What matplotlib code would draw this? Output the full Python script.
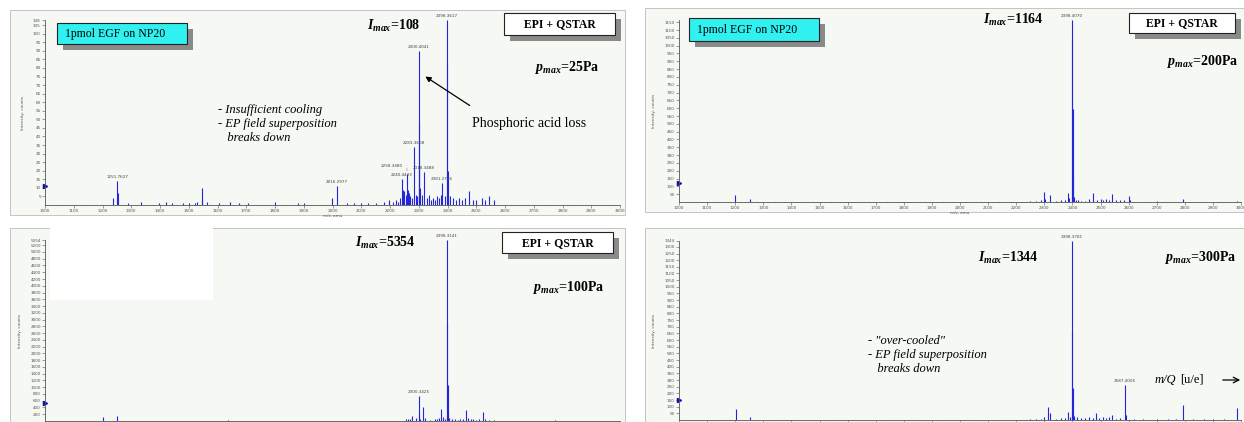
import matplotlib
matplotlib.use('Agg')
import matplotlib.pyplot as plt
from matplotlib.patches import Rectangle

plt.rcParams['mathtext.fontset'] = 'custom'
plt.rcParams['mathtext.it'] = 'Liberation Serif:italic:bold'
plt.rcParams['mathtext.rm'] = 'Liberation Serif:bold'
plt.rcParams['mathtext.bf'] = 'Liberation Serif:bold'

# ---- data (m/z, intensity) ----
x_ticks = list(range(1000, 3001, 100))

# p_max = 25 Pa
tl_mz = [1235, 1251.76, 1252.8, 1290, 1335, 1395, 1420, 1440, 1480, 1500,
         1520, 1530, 1545.5, 1546.5, 1565, 1605, 1645, 1675, 1705, 1800,
         1880, 1900, 1999, 2016.30, 2050, 2075, 2100, 2125, 2150, 2180,
         2195, 2210, 2220, 2228, 2235, 2240.44, 2245, 2250, 2254, 2258.35,
         2262, 2266, 2270, 2276, 2283.36, 2290, 2295, 2300.40, 2301.40, 2302.40,
         2306, 2310, 2318.35, 2328, 2335, 2342, 2350, 2356, 2362, 2370,
         2376, 2381.27, 2390, 2398.36, 2399.36, 2400.36, 2401.36, 2410, 2418, 2430,
         2440, 2450, 2462, 2475, 2490, 2500, 2520, 2530, 2545, 2560]
tl_int = [4, 14, 7, 1, 2, 1, 2, 1, 1, 1,
          1, 2, 10, 3, 2, 1, 2, 1, 1, 2,
          1, 1, 4, 11, 1, 1, 1, 1, 1, 2,
          3, 2, 3, 2, 4, 15, 9, 8, 6, 18,
          9, 7, 5, 4, 34, 6, 5, 90, 48, 22,
          10, 6, 19, 4, 6, 3, 4, 3, 5, 4,
          6, 13, 5, 108, 82, 20, 6, 5, 4, 3,
          4, 3, 4, 8, 3, 3, 4, 3, 5, 3]
tl_labels = [(1251.76, 14, '1251.7627'), (2016.30, 11, '2016.2977'),
             (2240.44, 15, '2240.4433'), (2283.36, 34, '2283.3608'),
             (2300.40, 90, '2300.4041'), (2318.35, 19, '2318.3488'),
             (2381.27, 13, '2381.2736'), (2398.36, 108, '2398.3617')]
tl_yticks = list(range(5, 106, 5)) + [108]

# p_max = 200 Pa
tr_mz = [1200, 1252, 2250, 2270, 2290, 2300.4, 2302, 2322, 2340, 2360,
         2375, 2383, 2387, 2398.41, 2399.41, 2400.41, 2401.41, 2406, 2412, 2420,
         2432, 2445, 2460, 2475, 2488, 2500, 2510, 2520, 2530, 2541,
         2555, 2570, 2585, 2601, 2606, 2700, 2794, 2986]
tr_int = [45, 20, 5, 8, 15, 65, 20, 45, 8, 10,
          12, 55, 25, 1164, 1027, 594, 175, 30, 15, 10,
          8, 8, 20, 60, 12, 20, 15, 20, 12, 50,
          10, 10, 12, 40, 15, 5, 20, 8]
tr_labels = [(2398.41, 1164, '2398.4070')]
tr_yticks = list(range(50, 1151, 50))

# p_max = 100 Pa
bl_mz = [1200, 1251, 1637, 2255, 2262, 2270, 2278, 2290, 2300.34, 2301.34,
         2306, 2314, 2322, 2340, 2355, 2362, 2370, 2377, 2383, 2390,
         2398.31, 2399.31, 2400.31, 2401.31, 2406, 2415, 2425, 2435, 2445, 2455,
         2464, 2470, 2480, 2490, 2500, 2510, 2522, 2530, 2545, 2560,
         2774]
bl_int = [120, 150, 15, 50, 60, 45, 150, 80, 730, 200,
          60, 415, 80, 40, 60, 50, 90, 365, 120, 60,
          5354, 2900, 1065, 300, 100, 70, 60, 40, 70, 50,
          315, 90, 70, 50, 40, 70, 265, 50, 40, 30,
          20]
bl_labels = [(2300.34, 730, '2300.3425'), (2398.31, 5354, '2398.3141')]
bl_yticks = list(range(200, 5201, 200)) + [5354]

# p_max = 300 Pa
br_mz = [1203, 1252, 2250, 2270, 2290, 2300.4, 2313, 2322, 2340, 2360,
         2372, 2383, 2390, 2398.38, 2399.38, 2400.38, 2401.38, 2406, 2415, 2430,
         2445, 2460, 2475, 2484, 2495, 2510, 2520, 2530, 2541, 2555,
         2570, 2587.40, 2592, 2620, 2650, 2700, 2740, 2770, 2794, 2830,
         2870, 2900, 2940, 2986]
br_int = [85, 25, 5, 8, 10, 20, 95, 50, 10, 12,
          15, 62, 20, 1344, 663, 238, 60, 30, 20, 15,
          12, 20, 15, 50, 15, 20, 12, 20, 38, 10,
          12, 263, 40, 8, 6, 8, 6, 6, 113, 6,
          6, 5, 6, 92]
br_labels = [(2398.38, 1344, '2398.3781'), (2587.40, 263, '2587.4005')]
br_yticks = list(range(50, 1301, 50)) + [1344]

# ---- layout in pixels ----
W, H = 1244, 422
fig = plt.figure(figsize=(W / 100, H / 100), dpi=100)
fig.patch.set_facecolor('white')

def px_axes(left, top, right, bottom, z):
    return fig.add_axes([left / W, 1 - bottom / H, (right - left) / W, (bottom - top) / H], zorder=z)

bg = px_axes(0, 0, W, H, 0)
bg.set_xlim(0, W)
bg.set_ylim(H, 0)
bg.axis('off')
panel_color = '#f5f8f3'
for (x0, y0, x1, y1) in [(10, 10, 625, 215), (645, 8, 1244, 212),
                         (10, 228, 625, 422), (645, 228, 1244, 422)]:
    bg.add_patch(Rectangle((x0, y0), x1 - x0, y1 - y0, fc=panel_color, ec='#c4c4c4', lw=0.7))

blue = '#2424d8'

def spectrum(ax, mz, inten, ymax, yticks, labels, marker_y, show_xlabels=True):
    ax.set_facecolor('none')
    ax.vlines(mz, 0, inten, color=blue, lw=0.8)
    ax.set_xlim(1000, 3000)
    ax.set_ylim(0, ymax)
    ax.set_xticks(x_ticks)
    ax.set_xticks(range(1000, 3001, 20), minor=True)
    ax.set_yticks(yticks)
    for s in ['top', 'right']:
        ax.spines[s].set_visible(False)
    for s in ['left', 'bottom']:
        ax.spines[s].set_color('#555555')
        ax.spines[s].set_linewidth(0.6)
    ax.tick_params(axis='both', which='major', length=2, width=0.4, pad=1,
                   labelsize=3, labelcolor='#555555', color='#555555')
    ax.tick_params(axis='x', which='minor', length=1, width=0.3, color='#777777')
    ax.set_ylabel('Intensity, counts', fontsize=3, color='#555555', labelpad=6)
    if show_xlabels:
        ax.set_xlabel('m/z, amu', fontsize=3, color='#555555', labelpad=0.5)
    else:
        # the lower spectra are cropped right at their x axis
        ax.tick_params(axis='x', labelbottom=False)
    for (x, y, t) in labels:
        ax.annotate(t, (x, y), xytext=(0, 1.5), textcoords='offset points',
                    ha='center', va='bottom', fontsize=3, color='#444444')
    ax.plot([1000], [marker_y], marker='>', ms=3, color='#1010b0', clip_on=False)

ax_tl = px_axes(45, 20, 620, 205, 2)
spectrum(ax_tl, tl_mz, tl_int, 108, tl_yticks, tl_labels, 11)
ax_tl.annotate('2258.3480', (2258.35, 18), xytext=(-3, 4.5), textcoords='offset points',
               ha='right', va='bottom', fontsize=3, color='#444444',
               arrowprops=dict(arrowstyle='-', color='#666666', lw=0.3,
                               connectionstyle='angle,angleA=0,angleB=90'))

ax_tr = px_axes(679, 20, 1241, 202, 2)
spectrum(ax_tr, tr_mz, tr_int, 1164, tr_yticks, tr_labels, 120)

ax_bl = px_axes(45, 240, 620, 421, 2)
spectrum(ax_bl, bl_mz, bl_int, 5354, bl_yticks, bl_labels, 530, False)

ax_br = px_axes(679, 241, 1241, 420, 2)
spectrum(ax_br, br_mz, br_int, 1344, br_yticks, br_labels, 150, False)

# ---- overlay: boxes and annotations ----
ov = px_axes(0, 0, W, H, 5)
ov.set_xlim(0, W)
ov.set_ylim(H, 0)
ov.axis('off')
serif = 'Liberation Serif'

def shadow_box(x0, y0, x1, y1, fc, text, bold, centered):
    ov.add_patch(Rectangle((x0 + 6, y0 + 6), x1 - x0, y1 - y0, fc='#8a8a8a', ec='none'))
    ov.add_patch(Rectangle((x0, y0), x1 - x0, y1 - y0, fc=fc, ec='#222222', lw=0.8))
    tx = (x0 + x1) / 2 if centered else x0 + 8
    ov.text(tx, (y0 + y1) / 2 + 0.5, text, ha='center' if centered else 'left', va='center',
            family=serif, fontsize=8.5, fontweight='bold' if bold else 'normal')

shadow_box(57, 23, 187, 44, '#30f0f0', '1pmol EGF on NP20', False, False)
shadow_box(689, 18, 819, 41, '#30f0f0', '1pmol EGF on NP20', False, False)
shadow_box(504, 13, 615, 35, 'white', 'EPI + QSTAR', True, True)
shadow_box(1129, 13, 1235, 33, 'white', 'EPI + QSTAR', True, True)
shadow_box(502, 232, 613, 253, 'white', 'EPI + QSTAR', True, True)

# white patch in lower-left panel
ov.add_patch(Rectangle((50, 226), 163, 74, fc='white', ec='none'))

big = dict(family=serif, fontsize=10, fontweight='bold', va='center', ha='left')
ov.text(367, 26, r'$I_{max}$=108', **big)
ov.text(535, 67, r'$p_{max}$=25Pa', **big)
ov.text(983, 20, r'$I_{max}$=1164', **big)
ov.text(1167, 62, r'$p_{max}$=200Pa', **big)
ov.text(355, 243, r'$I_{max}$=5354', **big)
ov.text(533, 287, r'$p_{max}$=100Pa', **big)
ov.text(978, 258, r'$I_{max}$=1344', **big)
ov.text(1165, 258, r'$p_{max}$=300Pa', **big)

ov.text(472, 123, 'Phosphoric acid loss', family=serif, fontsize=10, va='center', ha='left')
ov.annotate('', xy=(423, 75), xytext=(472, 107),
            arrowprops=dict(arrowstyle='-|>', color='black', lw=0.9, mutation_scale=8))

ov.text(218, 104, '- Insufficient cooling\n- EP field superposition\n   breaks down',
        family=serif, fontsize=9, style='italic', va='top', ha='left', linespacing=1.2)
ov.text(868, 335, '- "over-cooled"\n- EP field superposition\n   breaks down',
        family=serif, fontsize=9, style='italic', va='top', ha='left', linespacing=1.2)

ov.text(1155, 380, 'm/Q', family=serif, fontsize=9, style='italic', va='center', ha='left')
ov.text(1180, 380, '[u/e]', family=serif, fontsize=9, va='center', ha='left')
ov.annotate('', xy=(1243, 380), xytext=(1220, 380),
            arrowprops=dict(arrowstyle='->', color='black', lw=0.9))

fig.savefig('out.png', dpi=100)
